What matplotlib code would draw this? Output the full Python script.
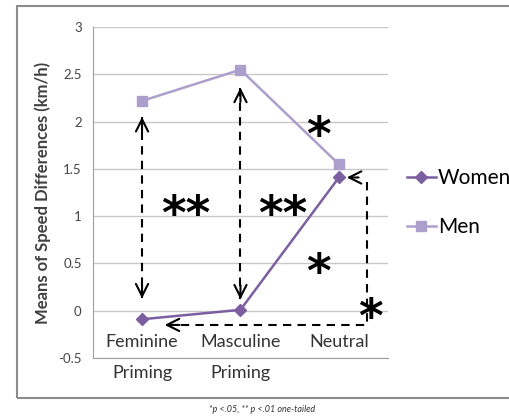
import numpy as np
import matplotlib.pyplot as plt
from matplotlib.patches import Rectangle

# data
categories = ["Feminine\nPriming", "Masculine\nPriming", "Neutral"]
women = [-0.09, 0.01, 1.41]
men = [2.22, 2.55, 1.55]

women_color = '#7b5fa0'
men_color = '#ad9fcb'

plt.rcParams['font.family'] = ['Lato', 'DejaVu Sans']

fig = plt.figure(figsize=(5.1, 4.18), dpi=100)
ax = fig.add_axes([0.182, 0.1435, 0.579, 0.7915])

x = np.arange(len(categories))
ax.plot(x, women, color=women_color, lw=1.8, marker='D', ms=6, label='Women')
ax.plot(x, men, color=men_color, lw=1.8, marker='s', ms=7, label='Men')

ax.set_xlim(-0.5, 2.5)
ax.set_ylim(-0.5, 3)
ax.set_yticks(np.arange(-0.5, 3.01, 0.5))
ax.set_yticklabels(['-0.5', '0', '0.5', '1', '1.5', '2', '2.5', '3'], fontsize=9.5, color='#444444')
ax.set_xticks([])
ax.tick_params(axis='y', length=0, pad=8)

# category labels sit across the bottom axis line, as in the original
for xi, lab in zip(x, categories):
    ax.text(xi, -0.25, lab, fontsize=13, color='#333333', ha='center', va='top',
            linespacing=2.15, clip_on=False)

ax.grid(axis='y', color='#c8c8c8', lw=1)
ax.set_axisbelow(True)
for s in ['top', 'right']:
    ax.spines[s].set_visible(False)
ax.spines['left'].set_color('#a0a0a0')
ax.spines['bottom'].set_color('#a0a0a0')
ax.set_ylabel("Means of Speed Differences (km/h)", fontsize=12, fontweight='bold',
              color='#404040', labelpad=5)

# dashed annotation lines
dash = dict(color='black', lw=1.5, ls=(0, (4, 3)))
head = dict(arrowstyle='->', color='black', lw=1.5, mutation_scale=22, shrinkA=0, shrinkB=0)
ax.plot([0, 0], [2.05, 0.13], **dash)
ax.plot([1, 1], [2.36, 0.12], **dash)
ax.plot([2.29, 2.29, 0.23], [1.36, -0.15, -0.15], **dash)
for tip, tail in [((0, 2.05), (0, 1.9)), ((0, 0.13), (0, 0.28)),
                  ((1, 2.36), (1, 2.21)), ((1, 0.12), (1, 0.27)),
                  ((2.08, 1.41), (2.2, 1.41)), ((0.23, -0.15), (0.38, -0.15))]:
    ax.annotate('', xy=tip, xytext=tail, arrowprops=head)

# significance stars
for sx, sy, s in [(0.44, 1.0, '**'), (1.43, 1.0, '**'), (1.79, 1.83, '*'),
                  (1.79, 0.38, '*'), (2.32, -0.09, '*')]:
    ax.text(sx, sy, s, fontsize=34, fontweight='bold', ha='center', va='center',
            family='DejaVu Sans')

ax.legend(loc='center left', bbox_to_anchor=(1.035, 0.47), frameon=False, fontsize=15,
          handlelength=1.4, handletextpad=0.1, labelspacing=1.4, borderaxespad=0)

# outer chart border
fig.patches.append(Rectangle((17 / 510, 1 - 398 / 418), 1.0, (398 - 6) / 418,
                             transform=fig.transFigure, fill=False, ec='#8c8c8c', lw=1.5))
fig.text(262 / 510, 1 - 409 / 418, "*p <.05, ** p <.01 one-tailed", fontsize=6.5,
         style='italic', ha='center', va='center', color='#333333')

fig.savefig('out.png', dpi=100)
